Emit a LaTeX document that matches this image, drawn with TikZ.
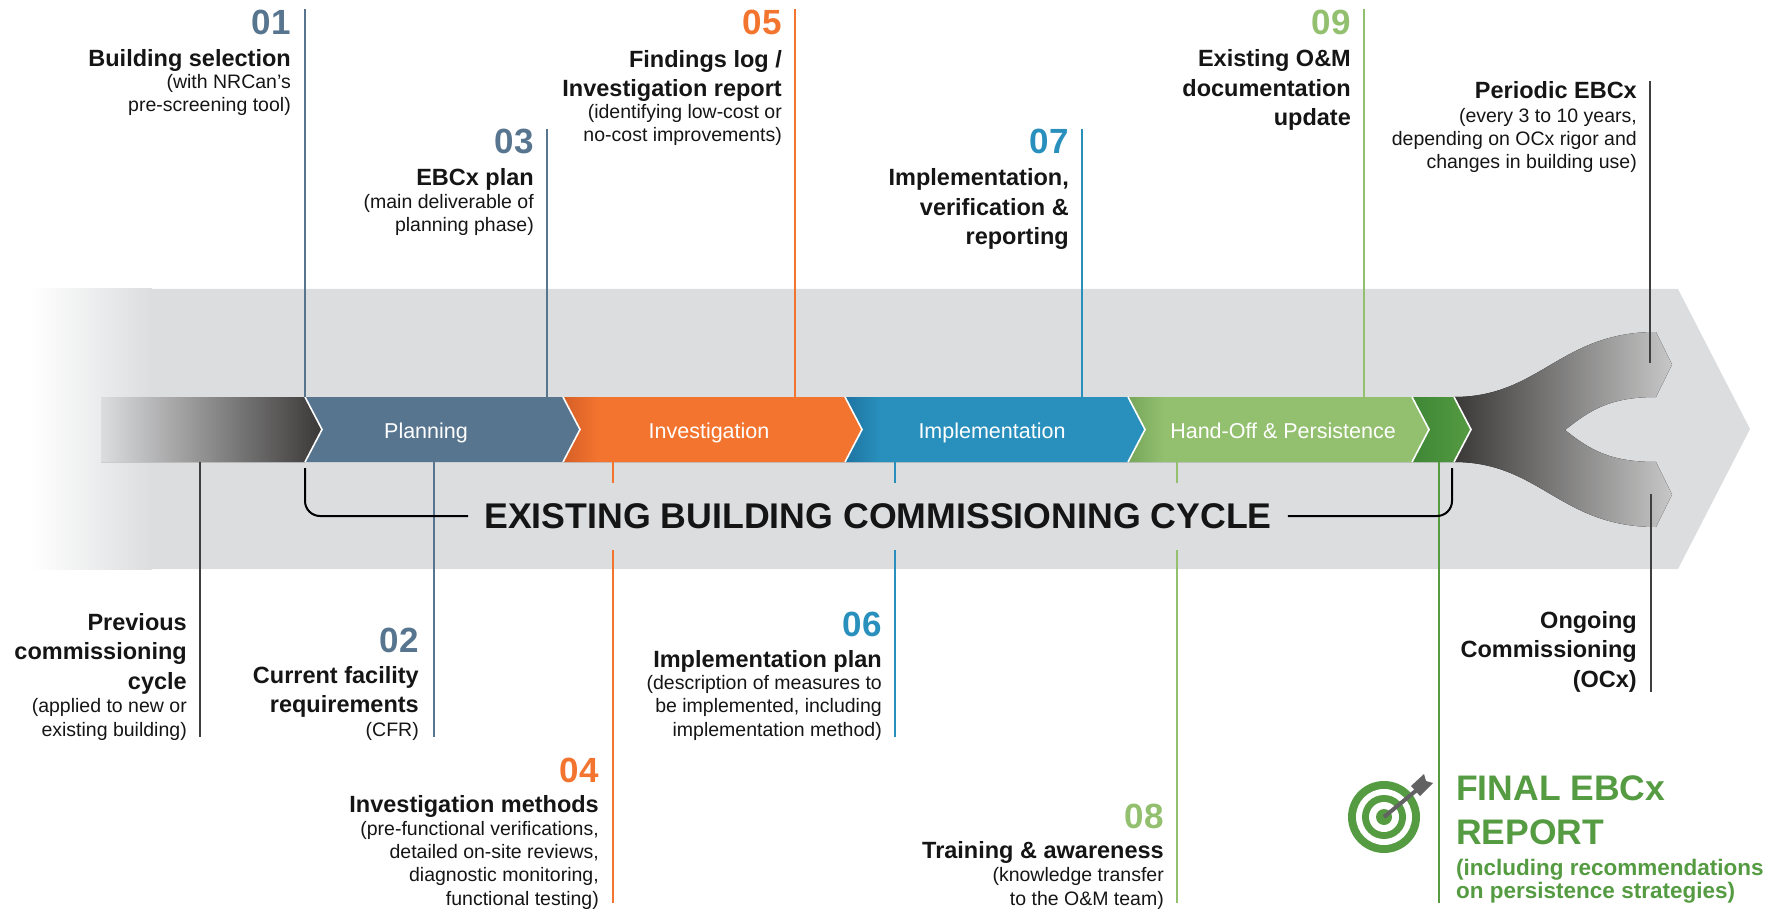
\documentclass[tikz,border=0pt]{standalone}
\usepackage{fontspec}
\setmainfont{Liberation Sans}
\definecolor{band}{HTML}{DCDDDF}
\definecolor{plan}{HTML}{587590}
\definecolor{inv}{HTML}{F3742E}
\definecolor{invdark}{HTML}{D65F27}
\definecolor{imp}{HTML}{2990BD}
\definecolor{impdark}{HTML}{1E74A2}
\definecolor{hand}{HTML}{93C06F}
\definecolor{handdark}{HTML}{76A65A}
\definecolor{final}{HTML}{559B42}
\definecolor{finaldark}{HTML}{3F8736}
\definecolor{ink}{HTML}{151515}
\definecolor{leadgray}{HTML}{3F3F3F}
\definecolor{coal}{HTML}{3A3837}
\definecolor{arrowgray}{HTML}{626262}
\pgfdeclarehorizontalshading{invshade}{100bp}{color(0bp)=(invdark); color(25bp)=(invdark); color(31bp)=(inv); color(100bp)=(inv)}
\pgfdeclarehorizontalshading{impshade}{100bp}{color(0bp)=(impdark); color(25bp)=(impdark); color(31bp)=(imp); color(100bp)=(imp)}
\pgfdeclarehorizontalshading{handshade}{100bp}{color(0bp)=(handdark); color(25bp)=(handdark); color(31bp)=(hand); color(100bp)=(hand)}
\begin{document}
\begin{tikzpicture}[x=1pt,y=-1pt]
  \tikzstyle{num}=[anchor=base east, inner sep=0pt, font=\fontsize{35}{35}\selectfont\bfseries]
  \tikzstyle{ttl}=[anchor=base east, align=right, inner sep=0pt, text=ink, font=\fontsize{23.5}{29.5}\selectfont\bfseries]
  \tikzstyle{sub}=[anchor=base east, align=right, inner sep=0pt, text=ink, font=\fontsize{19.5}{23.2}\selectfont]
  \tikzstyle{stage}=[anchor=base, inner sep=0pt, text=white, font=\fontsize{21.5}{21.5}\selectfont]
  \tikzstyle{leader}=[line width=1.2pt]
  \tikzstyle{tip}=[draw=white, line width=1.6pt]
  \tikzstyle{bracket}=[line width=2pt, black, rounded corners=15pt]
  \useasboundingbox (0,0) rectangle (1775,909);

  % grey band behind the cycle
  \fill[left color=white, right color=band] (31,289) rectangle (152,569);
  \fill[band] (150,289) -- (1678,289) -- (1750,429) -- (1678,569) -- (150,569) -- cycle;

  % fork towards periodic EBCx / OCx
  \fill[left color=coal, right color=black!22] (1454,397)
    .. controls (1540,397) and (1560,332) .. (1656,332) -- (1672,364.5) -- (1656,397)
    .. controls (1610,397) and (1590,410) .. (1565,430)
    .. controls (1590,450) and (1610,462) .. (1656,462) -- (1672,494.5) -- (1656,527)
    .. controls (1560,527) and (1540,462) .. (1454,462) -- cycle;

  % previous cycle bar
  \fill[left color=band, right color=coal] (101,397) -- (305,397) -- (322,429.5) -- (305,462) -- (101,462) -- cycle;

  % stages
  \fill[plan] (305,397) -- (563,397) -- (580,429.5) -- (563,462) -- (305,462) -- (322,429.5) -- cycle;
  \fill[shading=invshade] (563,397) -- (845,397) -- (862,429.5) -- (845,462) -- (563,462) -- (580,429.5) -- cycle;
  \fill[shading=impshade] (845,397) -- (1128,397) -- (1145,429.5) -- (1128,462) -- (845,462) -- (862,429.5) -- cycle;
  \fill[shading=handshade] (1128,397) -- (1412,397) -- (1429,429.5) -- (1412,462) -- (1128,462) -- (1145,429.5) -- cycle;
  \fill[left color=finaldark, right color=final] (1412,397) -- (1454,397) -- (1471,429.5) -- (1454,462) -- (1412,462) -- (1429,429.5) -- cycle;
  \foreach \x in {305,563,845,1128,1412,1454}
    \draw[tip] (\x,397) -- (\x+17,429.5) -- (\x,462);

  \node[stage] (lplan) at (426,438) {Planning};
  \node[stage] (linv) at (709,438) {Investigation};
  \node[stage] (limp) at (992,438) {Implementation};
  \node[stage] (lhand) at (1283,438) {Hand-Off \& Persistence};

  % leader lines
  \foreach \n/\x/\ya/\yb/\c in {l01/305/9/397/plan, l03/547/129/397/plan, l02/434/462/737/plan,
      l05/795/9/397/inv, l04/613/462/903/inv, l07/1082/129/397/imp, l06/895/462/737/imp,
      l09/1364/9/397/hand, l08/1177/462/903/hand, lper/1650/81/363/leadgray,
      lprev/200/462/737/leadgray, locx/1651/494/692/leadgray, lfin/1439/462/903/final}
  {
    \coordinate (\n-a) at (\x,\ya);
    \coordinate (\n-b) at (\x,\yb);
    \draw[leader,\c] (\n-a) -- (\n-b);
  }

  % cycle title with bracket
  \node[fill=band, inner xsep=16pt, inner ysep=0pt, minimum height=67pt, text=ink,
    font=\fontsize{35.7}{35.7}\selectfont\bfseries] (cycle) at (878,516) {EXISTING BUILDING COMMISSIONING CYCLE};
  \coordinate (brL) at (305,468);
  \coordinate (brR) at (1452,468);
  \draw[bracket] (brL) |- (cycle.west);
  \draw[bracket] (cycle.east) -| (brR);

  % top callouts (y = baseline of the last line)
  \node[num, text=plan] (n01) at (291,35) {01};
  \node[ttl] (t01) at (291,67) {Building selection};
  \node[sub] (s01) at (291,112) {(with NRCan’s\\pre-screening tool)};

  \node[num, text=plan] (n03) at (534,154) {03};
  \node[ttl] (t03) at (534,186) {EBCx plan};
  \node[sub] (s03) at (534,232) {(main deliverable of\\planning phase)};

  \node[num, text=inv] (n05) at (782,35) {05};
  \node[ttl] (t05) at (782,97) {Findings log /\\Investigation report};
  \node[sub] (s05) at (782,142) {(identifying low-cost or\\no-cost improvements)};

  \node[num, text=imp] (n07) at (1069,154) {07};
  \node[ttl] (t07) at (1069,245) {Implementation,\\verification \&\\reporting};

  \node[num, text=hand] (n09) at (1351,35) {09};
  \node[ttl] (t09) at (1351,126) {Existing O\&M\\documentation\\update};

  \node[ttl] (tper) at (1637,99) {Periodic EBCx};
  \node[sub] (sper) at (1637,169) {(every 3 to 10 years,\\depending on OCx rigor and\\changes in building use)};

  % bottom callouts
  \node[ttl] (tprev) at (187,689) {Previous\\commissioning\\cycle};
  \node[sub] (sprev) at (187,736) {(applied to new or\\existing building)};

  \node[num, text=plan] (n02) at (419,652) {02};
  \node[ttl] (t02) at (419,712.5) {Current facility\\requirements};
  \node[sub] (s02) at (419,736) {(CFR)};

  \node[num, text=inv] (n04) at (599,782) {04};
  \node[ttl] (t04) at (599,812) {Investigation methods};
  \node[sub] (s04) at (599,905) {(pre-functional verifications,\\detailed on-site reviews,\\diagnostic monitoring,\\functional testing)};

  \node[num, text=imp] (n06) at (882,636) {06};
  \node[ttl] (t06) at (882,667) {Implementation plan};
  \node[sub] (s06) at (882,736) {(description of measures to\\be implemented, including\\implementation method)};

  \node[num, text=hand] (n08) at (1164,828) {08};
  \node[ttl] (t08) at (1164,858) {Training \& awareness};
  \node[sub] (s08) at (1164,905) {(knowledge transfer\\to the O\&M team)};

  \node[ttl] (tocx) at (1637,687) {Ongoing\\Commissioning\\(OCx)};

  % final report
  \node[anchor=base west, align=left, inner sep=0pt, text=final,
    font=\fontsize{35.5}{44}\selectfont\bfseries] (tfin) at (1456,844) {FINAL EBCx\\REPORT};
  \node[anchor=base west, align=left, inner sep=0pt, text=final,
    font=\fontsize{22.5}{23}\selectfont\bfseries] (sfin) at (1456,898) {(including recommendations\\on persistence strategies)};

  % target icon
  \fill[final] (1384,817) circle (36);
  \fill[white] (1384,817) circle (28);
  \fill[final] (1384,817) circle (22);
  \fill[white] (1384,817) circle (15);
  \fill[final] (1384,817) circle (8);
  \draw[arrowgray, line width=4pt] (1384,817) -- (1418,789);
  \fill[arrowgray] (1411,786) -- (1424,774) -- (1426,781) -- (1433,783) -- (1420,796) -- cycle;
\end{tikzpicture}
\end{document}
